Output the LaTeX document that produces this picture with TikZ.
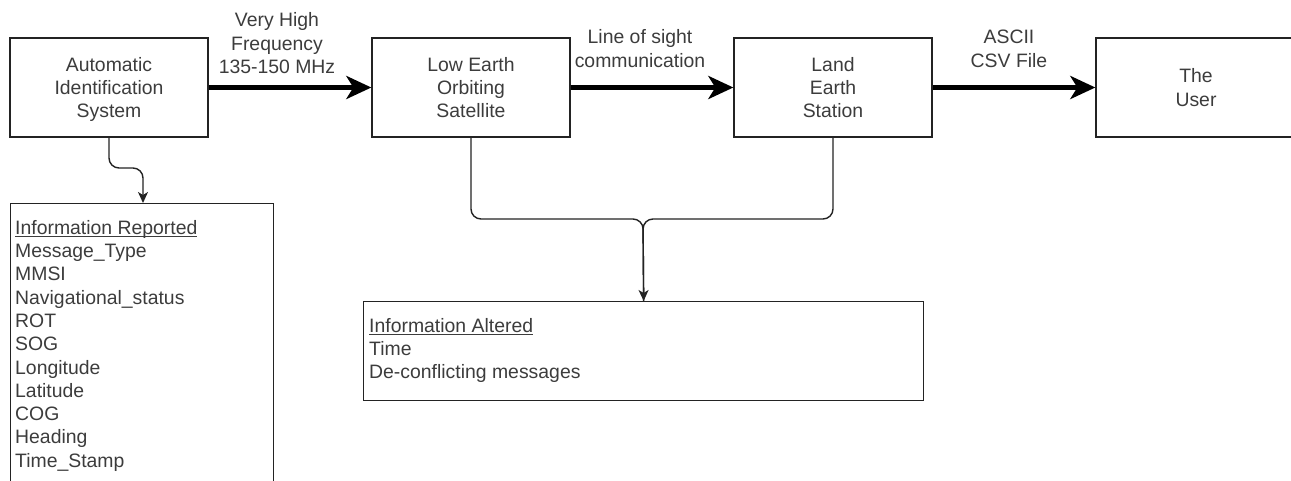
\documentclass[tikz,border=0pt]{standalone}
\usepackage{fontspec}
\setmainfont{Liberation Sans}
\usetikzlibrary{arrows.meta,calc}

\definecolor{txt}{RGB}{60,60,60}
\definecolor{edge}{RGB}{35,35,35}

% strut giving every text line the same height and depth
\newcommand\ls{\rule[-4.65pt]{0pt}{23.3pt}}
% underline set close to the baseline
\newcommand\undl[1]{\setbox0\hbox{#1}\rlap{\rule[-2.3pt]{\wd0}{1pt}}\box0}

\begin{document}
\begin{tikzpicture}[x=1pt,y=-1pt,
  every node/.style={font=\fontsize{19.4}{23.3}\selectfont, text=txt},
  block/.style={draw=edge, line width=1.3pt, minimum width=198pt,
    minimum height=99pt, inner sep=0pt, align=center},
  panel/.style={draw=edge, line width=1.3pt, inner sep=0pt, anchor=north west},
  lbl/.style={align=center, inner sep=0pt},
  listtext/.style={align=left, inner sep=0pt, anchor=north west},
  bigarrow/.style={line width=4.5pt, draw=black,
    -{Stealth[length=25pt,width=23pt,inset=7pt]}},
  link/.style={line width=1.4pt, draw=edge, rounded corners=10pt},
  linkarrow/.style={link, -{Stealth[length=11pt,width=10pt,inset=3pt]}}
]
\useasboundingbox (0,0) rectangle (1291,481);
\clip (0,0) rectangle (1291,481);

% main chain of blocks
\node[block] (ais)  at (109,87.5) {\ls Automatic\\\ls Identification\\\ls System};
\node[block] (leo)  at (471,87.5) {\ls Low Earth\\\ls Orbiting\\\ls Satellite};
\node[block] (land) at (833,87.5) {\ls Land\\\ls Earth\\\ls Station};
\node[block, minimum width=200pt] (user) at (1196,87.5) {\ls The\\\ls User};

% information panels
\node[panel, minimum width=263pt, minimum height=300pt] (rep) at (10,203) {};
\node[listtext] (reptext) at ($(rep.north west)+(5,12.35)$)
  {\ls\undl{Information Reported}\\\ls Message\_Type\\\ls MMSI\\
   \ls Navigational\_status\\\ls ROT\\\ls SOG\\\ls Longitude\\\ls Latitude\\
   \ls COG\\\ls Heading\\\ls Time\_Stamp};

\node[panel, minimum width=560pt, minimum height=99pt] (alt) at (363,301) {};
\node[listtext] (alttext) at ($(alt.north west)+(6,12.35)$)
  {\ls\undl{Information Altered}\\\ls Time\\\ls De-conflicting messages};

% transmission links
\draw[bigarrow] (ais.east) -- (leo.west);
\draw[bigarrow] (leo.east) -- (land.west);
\draw[bigarrow] (land.east) -- (user.west);

\node[lbl] (vhf)  at (277,43.3) {\ls Very High\\\ls Frequency\\\ls 135-150 MHz};
\node[lbl] (los)  at (640,48.5) {\ls Line of sight\\\ls communication};
\node[lbl] (csv)  at (1009,48.5) {\ls ASCII\\\ls CSV File};

% reported data
\coordinate (aisbend) at (143,168);
\draw[linkarrow] (ais.south) |- (aisbend) -- (aisbend |- rep.north);

% altered data merge
\coordinate (merge) at (643,219);
\draw[link] (land.south) |- (merge) -- (alt.north);
\draw[linkarrow] (leo.south) |- (merge) -- (alt.north);
\end{tikzpicture}
\end{document}
